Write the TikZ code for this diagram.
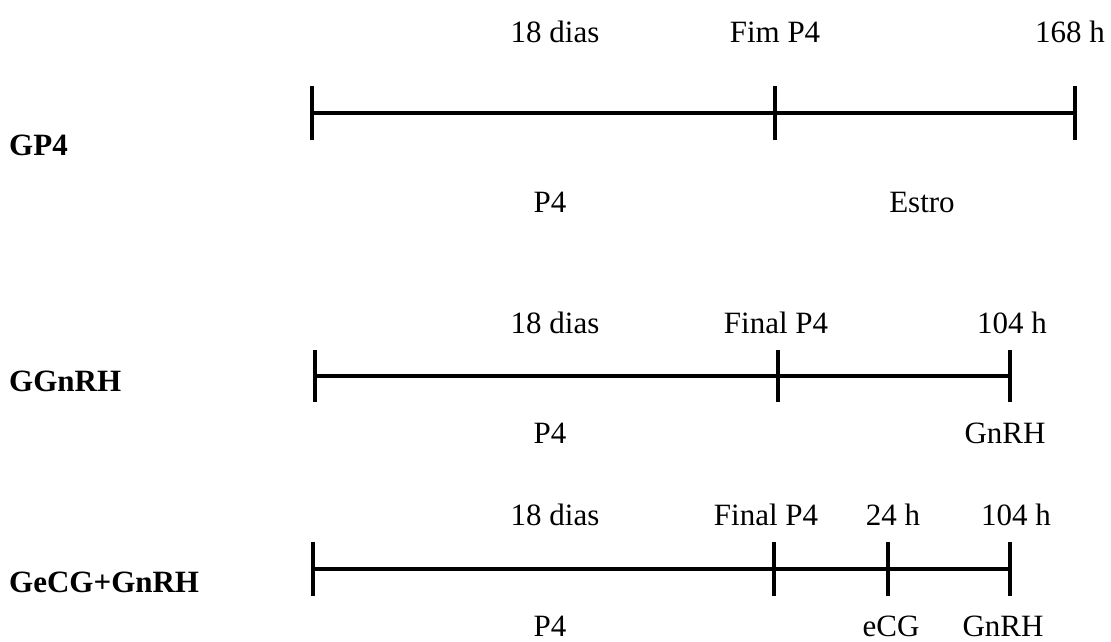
\documentclass[tikz,border=0pt]{standalone}
\usepackage{fontspec}
\setmainfont{Liberation Serif}
\begin{document}
\begin{tikzpicture}[x=1pt,y=-1pt,
  lbl/.style={inner sep=0pt,anchor=base,font=\fontsize{31}{34}\selectfont},
  grp/.style={inner sep=0pt,anchor=base west,font=\fontsize{31}{34}\selectfont\bfseries},
  axis/.style={line width=4pt},
  tick/.style={line width=4.5pt}]
\useasboundingbox (0,0) rectangle (1111,641);
% Row 1
\coordinate (a1) at (312,113);
\coordinate (b1) at (775,113);
\coordinate (c1) at (1075,113);
\draw[axis] (a1) -- (b1) -- (c1);
\foreach \p in {a1,b1,c1}
  \draw[tick] ([yshift=-27pt]\p) -- ([yshift=27pt]\p);
\node[grp] (g1) at (9,155) {GP4};
\node[lbl] (t11) at (555,42) {18 dias};
\node[lbl] (t12) at (775,42) {Fim P4};
\node[lbl] (t13) at (1070,42) {168 h};
\node[lbl] (u11) at (550,212) {P4};
\node[lbl] (u12) at (922,212) {Estro};
% Row 2
\coordinate (a2) at (315,376);
\coordinate (b2) at (778,376);
\coordinate (c2) at (1010,376);
\draw[axis] (a2) -- (b2) -- (c2);
\foreach \p in {a2,b2,c2}
  \draw[tick] ([yshift=-26pt]\p) -- ([yshift=26pt]\p);
\node[grp] (g2) at (9,391) {GGnRH};
\node[lbl] (t21) at (555,333) {18 dias};
\node[lbl] (t22) at (776,333) {Final P4};
\node[lbl] (t23) at (1012,333) {104 h};
\node[lbl] (u21) at (550,443) {P4};
\node[lbl] (u22) at (1005,443) {GnRH};
% Row 3
\coordinate (a3) at (313,569);
\coordinate (b3) at (774,569);
\coordinate (c3) at (888,569);
\coordinate (d3) at (1010,569);
\draw[axis] (a3) -- (b3) -- (c3) -- (d3);
\foreach \p in {a3,b3,c3,d3}
  \draw[tick] ([yshift=-27pt]\p) -- ([yshift=27pt]\p);
\node[grp] (g3) at (9,592) {GeCG+GnRH};
\node[lbl] (t31) at (555,525) {18 dias};
\node[lbl] (t32) at (766,525) {Final P4};
\node[lbl] (t33) at (893,525) {24 h};
\node[lbl] (t34) at (1016,525) {104 h};
\node[lbl] (u31) at (550,636) {P4};
\node[lbl] (u32) at (891,636) {eCG};
\node[lbl] (u33) at (1003,636) {GnRH};
\end{tikzpicture}
\end{document}
